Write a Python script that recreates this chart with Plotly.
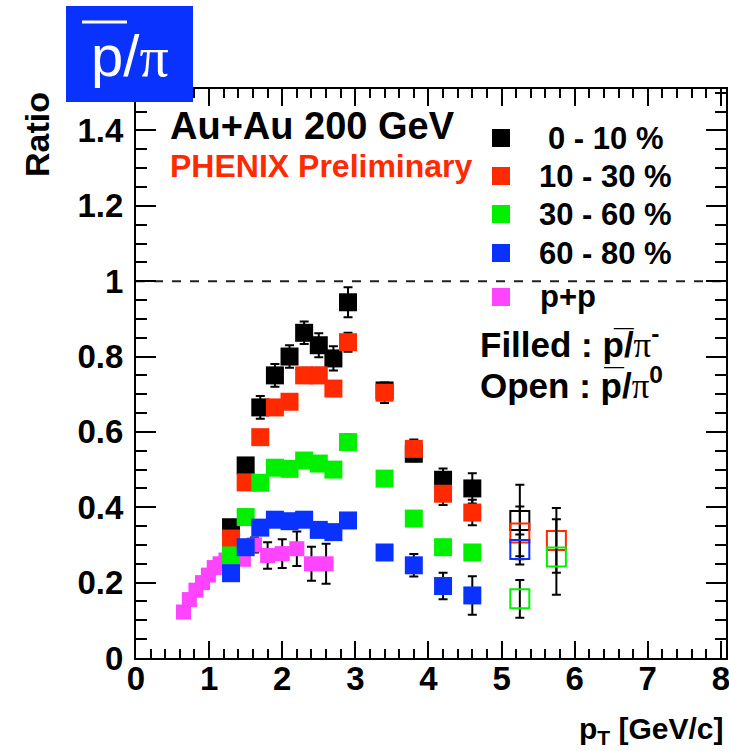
import plotly.graph_objects as go

# p_T bins (GeV/c) of the Au+Au filled points (pbar/pi-)
PT_AUAU = [1.3, 1.5, 1.7, 1.9, 2.1, 2.3, 2.5, 2.7, 2.9, 3.4, 3.8, 4.2, 4.6]

R_0_10 = [0.347, 0.511, 0.665, 0.750, 0.800, 0.863, 0.830, 0.795, 0.944, 0.710, 0.542, 0.473, 0.450]
E_0_10 = [0.010, 0.015, 0.030, 0.030, 0.030, 0.030, 0.032, 0.032, 0.040, 0.020, 0.020, 0.030, 0.040]

R_10_30 = [0.317, 0.466, 0.586, 0.665, 0.680, 0.750, 0.750, 0.715, 0.838, 0.704, 0.555, 0.436, 0.386]
E_10_30 = [0.010, 0.012, 0.015, 0.015, 0.015, 0.020, 0.020, 0.020, 0.025, 0.027, 0.025, 0.030, 0.034]

R_30_60 = [0.272, 0.374, 0.465, 0.505, 0.502, 0.524, 0.516, 0.500, 0.573, 0.476, 0.370, 0.294, 0.280]
E_30_60 = [0.008, 0.010, 0.010, 0.012, 0.012, 0.012, 0.012, 0.012, 0.020, 0.012, 0.012, 0.012, 0.012]

R_60_80 = [0.225, 0.294, 0.346, 0.367, 0.363, 0.367, 0.340, 0.334, 0.365, 0.280, 0.246, 0.191, 0.166]
E_60_80 = [0.008, 0.010, 0.010, 0.012, 0.012, 0.012, 0.012, 0.012, 0.020, 0.015, 0.030, 0.035, 0.051]

# open points (pbar/pi0)
PT_OPEN = [5.25, 5.75]
O_0_10 = [0.365, None]
OE_0_10 = [0.095, 0.0]
O_10_30 = [0.332, 0.312]
OE_10_30 = [0.070, 0.086]
O_30_60 = [0.157, 0.268]
OE_30_60 = [0.050, 0.100]
O_60_80 = [0.288, None]
OE_60_80 = [0.040, 0.0]

# p+p reference
PT_PP = [0.65, 0.73, 0.82, 0.91, 0.99, 1.07, 1.15, 1.23, 1.31, 1.39, 1.47, 1.62, 1.8, 2.0, 2.2, 2.4, 2.6]
R_PP = [0.122, 0.155, 0.180, 0.200, 0.220, 0.240, 0.250, 0.260, 0.265, 0.270, 0.262, 0.300,
        0.272, 0.277, 0.290, 0.250, 0.250]
E_PP = [0.008, 0.010, 0.010, 0.012, 0.012, 0.012, 0.015, 0.015, 0.015, 0.015, 0.015, 0.020,
        0.035, 0.038, 0.046, 0.045, 0.053]

Y_TICKS = [0, 0.2, 0.4, 0.6, 0.8, 1.0, 1.2, 1.4]
Y_TICK_TEXT = ["0", "0.2", "0.4", "0.6", "0.8", "1", "1.2", "1.4"]
X_TICKS = [0, 1, 2, 3, 4, 5, 6, 7, 8]
REF_LEVEL = 1.0

CENTRALITIES = ["0 - 10 %", "10 - 30 %", "30 - 60 %", "60 - 80 %"]
COLORS = ["#000000", "#ff2a00", "#00f000", "#0a32ff"]
PP_COLOR = "#ff44ff"

W, H = 729, 751
L, R, T, B = 136, 3, 89, 93
FONT = "Liberation Sans, Arial, sans-serif"


def px(x):
    """page pixel (from left) -> paper x"""
    return (x - L) / (W - L - R)


def py(y):
    """page pixel (from top) -> paper y"""
    return (H - B - y) / (H - T - B)


fig = go.Figure()

fig.add_trace(
    go.Scatter(
        x=PT_PP, y=R_PP, mode="markers", name="p+p",
        marker=dict(symbol="square", size=15, color=PP_COLOR, line=dict(width=0)),
        error_y=dict(type="data", array=E_PP, color="black", thickness=2, width=4.5),
        showlegend=False,
    )
)

filled = [(R_0_10, E_0_10), (R_10_30, E_10_30), (R_30_60, E_30_60), (R_60_80, E_60_80)]
for (vals, errs), color, label in zip(filled, COLORS, CENTRALITIES):
    fig.add_trace(
        go.Scatter(
            x=PT_AUAU, y=vals, mode="markers", name=label,
            marker=dict(symbol="square", size=18, color=color, line=dict(width=0)),
            error_y=dict(type="data", array=errs, color="black", thickness=2, width=4.5),
            showlegend=False,
        )
    )

opened = [(O_0_10, OE_0_10), (O_10_30, OE_10_30), (O_30_60, OE_30_60), (O_60_80, OE_60_80)]
for (vals, errs), color, label in zip(opened, COLORS, CENTRALITIES):
    fig.add_trace(
        go.Scatter(
            x=PT_OPEN, y=vals, mode="markers", name=label + " (open)",
            marker=dict(symbol="square-open", size=19, color=color, line=dict(width=2, color=color)),
            error_y=dict(type="data", array=errs, color="black", thickness=2, width=4.5),
            showlegend=False,
        )
    )

axis_common = dict(
    showline=True, linewidth=2, linecolor="black", mirror="ticks",
    ticks="inside", tickwidth=2, tickcolor="black", showgrid=False, zeroline=False,
    ticklabeloverflow="allow", automargin=False,
    tickfont=dict(family=FONT, size=33, color="black", weight="bold"),
)
fig.update_xaxes(
    range=[0, 8.07], tickvals=X_TICKS, ticklen=17, ticklabelstandoff=-10,
    minor=dict(ticks="inside", ticklen=9, dtick=0.2, tickwidth=2, tickcolor="black"),
    **axis_common,
)
fig.update_yaxes(
    range=[0, 1.51], tickvals=Y_TICKS, ticktext=Y_TICK_TEXT, ticklen=20, ticklabelstandoff=4,
    minor=dict(ticks="inside", ticklen=11, dtick=0.05, tickwidth=2, tickcolor="black"),
    **axis_common,
)

shapes = [
    # dashed reference line at ratio = 1
    dict(type="line", xref="paper", yref="y", x0=0, x1=1, y0=REF_LEVEL, y1=REF_LEVEL,
         line=dict(color="#222222", width=2, dash="dash"), layer="below"),
    # title box
    dict(type="rect", xref="paper", yref="paper", x0=px(66), x1=px(193), y0=py(102), y1=py(6),
         fillcolor="#0a32ff", line=dict(width=0), layer="above"),
    dict(type="line", xref="paper", yref="paper", x0=px(82), x1=px(127), y0=py(22), y1=py(22),
         line=dict(color="white", width=3), layer="above"),
]
for color, yc in zip(COLORS + [PP_COLOR], [138, 176, 214, 253, 297]):
    shapes.append(
        dict(type="rect", xref="paper", yref="paper", x0=px(492), x1=px(510),
             y0=py(yc + 9), y1=py(yc - 9), fillcolor=color, line=dict(width=0), layer="above")
    )

annotations = [
    dict(x=px(130), y=py(56), text="p/<span style='font-family:Liberation Serif'>π</span>",
         font=dict(family=FONT, size=58, color="white")),
    dict(x=px(37), y=py(135), text="<b>Ratio</b>", textangle=-90,
         font=dict(family=FONT, size=34, color="black")),
    dict(x=px(726), y=py(730), xanchor="right", text="<b>p<sub>T</sub> [GeV/c]</b>",
         font=dict(family=FONT, size=30, color="black")),
    dict(x=px(168), y=py(126), xanchor="left", text="<b>Au+Au 200 GeV</b>",
         font=dict(family=FONT, size=38, color="black")),
    dict(x=px(168), y=py(166), xanchor="left", text="<b>PHENIX Preliminary</b>",
         font=dict(family=FONT, size=32, color="#ff2a00")),
    dict(x=px(538), y=py(296), xanchor="left", text="<b>p+p</b>",
         font=dict(family=FONT, size=31, color="black")),
    dict(x=px(478), y=py(344), xanchor="left",
         text="<b>Filled : p̲̅/<span style='font-family:Liberation Serif;font-weight:normal'>π</span><sup>-</sup></b>",
         font=dict(family=FONT, size=35, color="black")),
    dict(x=px(478), y=py(384), xanchor="left",
         text="<b>Open : p/<span style='font-family:Liberation Serif;font-weight:normal'>π</span><sup>0</sup></b>",
         font=dict(family=FONT, size=35, color="black")),
]
for label, yc in zip(CENTRALITIES, [138, 176, 214, 253]):
    annotations.append(
        dict(x=px(605), y=py(yc), xanchor="center", text="<b>" + label + "</b>",
             font=dict(family=FONT, size=31, color="black"))
    )
for a in annotations:
    a.setdefault("xanchor", "center")
    a.update(xref="paper", yref="paper", yanchor="middle", showarrow=False)

fig.update_layout(
    width=W, height=H,
    margin=dict(l=L, r=R, t=T, b=B),
    paper_bgcolor="white", plot_bgcolor="white",
    shapes=shapes, annotations=annotations,
    showlegend=False,
)

# drop the default 8 px body margin so the figure fills the window exactly
fig.write_html(
    "out.html",
    config={"displayModeBar": False},
    post_script="document.body.style.margin = '0px';",
)
